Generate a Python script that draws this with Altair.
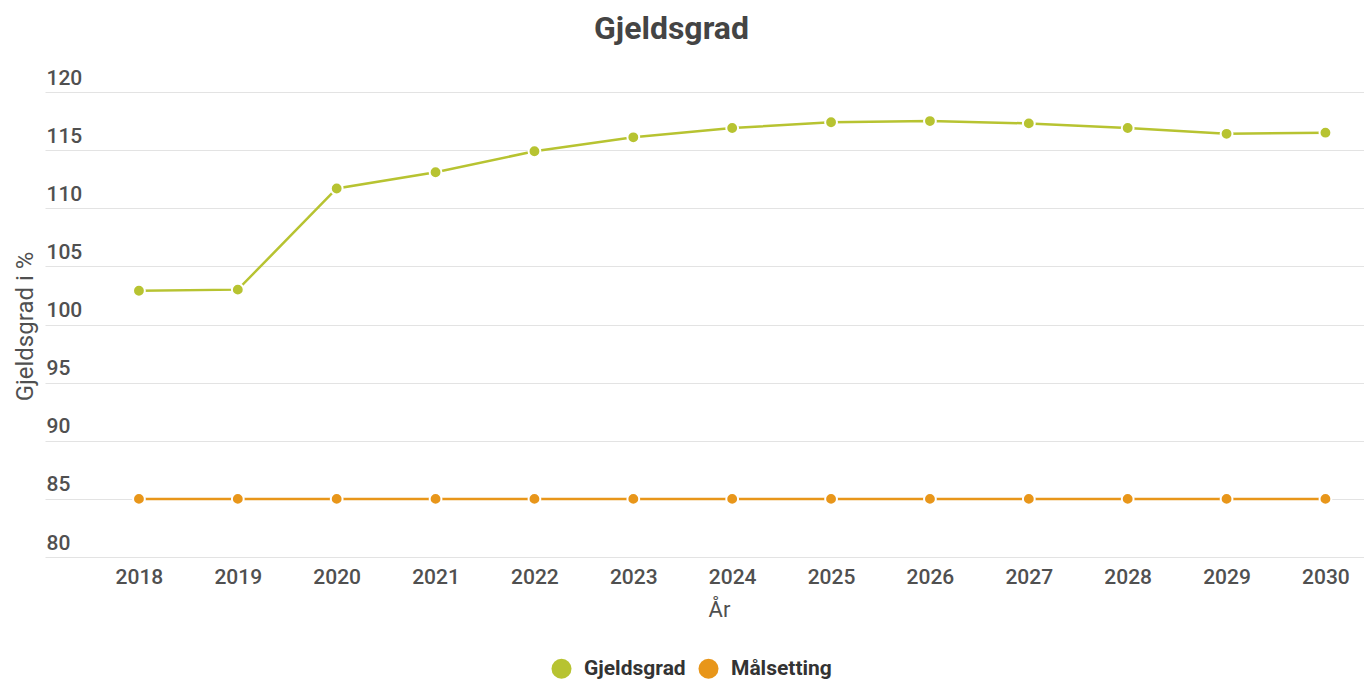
import altair as alt
import pandas as pd

years = [2018, 2019, 2020, 2021, 2022, 2023, 2024, 2025, 2026, 2027, 2028, 2029, 2030]
gjeldsgrad = [102.9, 103.0, 111.7, 113.1, 114.9, 116.1, 116.9, 117.4, 117.5, 117.3, 116.9, 116.4, 116.5]
malsetting = [85, 85, 85, 85, 85, 85, 85, 85, 85, 85, 85, 85, 85]
series_names = ["Gjeldsgrad", "Målsetting"]
series_colors = ["#b7c331", "#e8961a"]
y_ticks = [80, 85, 90, 95, 100, 105, 110, 115, 120]

rows = []
for name, vals in zip(series_names, [gjeldsgrad, malsetting]):
    for yr, v in zip(years, vals):
        rows.append({"År": yr, "Verdi": v, "Serie": name})
df = pd.DataFrame(rows)

x_enc = alt.X(
    "År:Q",
    scale=alt.Scale(domain=[2017.05, 2030.39], nice=False, zero=False),
    axis=alt.Axis(
        values=years, format="d", grid=False, domain=False, ticks=False, tickSize=0,
        labelFontSize=21, labelFontWeight=500, labelColor="#505050", labelPadding=9,
        labelFlush=False,
        title="År", titleFontSize=22, titleFontWeight="normal", titleColor="#505050",
        titleX=674, titleY=52, titleBaseline="middle",
    ),
)
y_enc = alt.Y(
    "Verdi:Q",
    scale=alt.Scale(domain=[80, 120], nice=False, zero=False),
    axis=alt.Axis(
        values=y_ticks, grid=True, gridColor="#e3e3e3", gridWidth=1, domain=False,
        ticks=False, tickSize=0, labelAlign="left", labelBaseline="bottom",
        labelPadding=-1, labelOffset=-4, labelFontSize=21, labelFontWeight=500,
        labelColor="#505050",
        title="Gjeldsgrad i %", titleFontSize=24, titleFontWeight="normal",
        titleColor="#505050", titleX=-20, titleY=234, titleBaseline="middle",
        titleAngle=-90,
    ),
)

base = alt.Chart(df)
lines = base.mark_line(strokeWidth=2.5).encode(
    x=x_enc, y=y_enc,
    stroke=alt.Stroke("Serie:N", scale=alt.Scale(domain=series_names, range=series_colors), legend=None),
)
points = base.mark_point(filled=True, size=140, strokeWidth=2, opacity=1).encode(
    x=x_enc, y=y_enc,
    color=alt.Color(
        "Serie:N", scale=alt.Scale(domain=series_names, range=series_colors),
        legend=alt.Legend(
            title=None, orient="none", legendX=506, legendY=566, direction="horizontal",
            symbolType="circle", symbolSize=400, symbolStrokeWidth=0, symbolOpacity=1,
            labelFontSize=21, labelFontWeight="bold", labelColor="#333333",
            labelOffset=12, columnPadding=12, padding=0,
        ),
    ),
    stroke=alt.value("white"),
)

chart = alt.layer(lines, points).resolve_scale(color="independent").properties(
    width=1319,
    height=465,
    title=alt.TitleParams(
        "Gjeldsgrad", fontSize=32, fontWeight="bold", color="#444444",
        anchor="middle", dx=-33, offset=21,
    ),
    autosize=alt.AutoSizeParams(type="none"),
    padding={"left": 37, "top": 84, "right": 0, "bottom": 126},
).configure(font="Roboto").configure_view(stroke=None)

chart.save("out.html", embed_options={"renderer": "svg", "actions": False})
